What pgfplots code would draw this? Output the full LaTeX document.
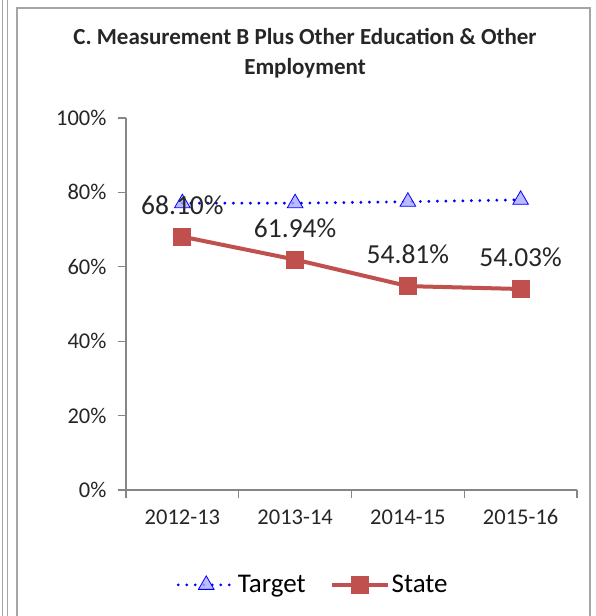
\documentclass[border=0pt]{standalone}
\usepackage{fontspec}
\setmainfont{Carlito}
\usepackage{pgfplots}
\pgfplotsset{compat=1.18}
\definecolor{stateRed}{RGB}{192,80,77}
\definecolor{targetBlue}{RGB}{0,0,255}
\definecolor{triFill}{RGB}{170,170,255}
\definecolor{axisGray}{RGB}{134,134,134}
\definecolor{frameGray}{RGB}{165,165,165}
\definecolor{labelDark}{RGB}{38,38,38}

\begin{document}
\begin{tikzpicture}[x=1pt,y=1pt]
\useasboundingbox (0,0) rectangle (595,616);
\fill[white] (0,0) rectangle (595,616);
% neighbouring chart edge and this chart's frame
\draw[frameGray, line width=1pt] (2,0) -- (2,616);
\draw[frameGray, line width=1pt] (7,0) -- (7,616);
\draw[frameGray, line width=1.2pt] (17,-5) -- (17,608) -- (590,608) -- (590,-5);
\node[font=\fontsize{23}{30}\selectfont\bfseries, text=labelDark, align=center] at (305,563)
  {C. Measurement B Plus Other Education \& Other\\Employment};

\begin{axis}[
  at={(126pt,126pt)}, anchor=south west,
  scale only axis, width=451pt, height=372pt,
  xmin=-0.5, xmax=3.5, ymin=0, ymax=100,
  axis x line=bottom, axis y line=left,
  axis line style={axisGray, line width=1.2pt, -},
  tick style={axisGray, line width=1.2pt},
  tick align=outside, major tick length=8pt,
  xtick={-0.5,0.5,1.5,2.5,3.5},
  xticklabels={2012-13,2013-14,2014-15,2015-16,},
  x tick label style={xshift=56.4pt, yshift=-8pt},
  ytick={0,20,40,60,80,100},
  yticklabels={0\%,20\%,40\%,60\%,80\%,100\%},
  y tick label style={xshift=-8pt},
  tick label style={font=\fontsize{22.5}{25}\selectfont, text=labelDark},
  legend style={draw=none, fill=none, at={(0.415,-0.255)}, anchor=center,
    legend columns=2, font=\fontsize{27}{30}\selectfont,
    /tikz/every even column/.append style={column sep=22pt}},
  legend image code/.code={\draw[mark repeat=2,mark phase=2] plot coordinates {(0pt,0pt) (28pt,0pt) (56pt,0pt)};},
  clip=false,
]
\addplot[targetBlue, line width=3.2pt, line cap=round, dash pattern=on 0pt off 8.5pt,
  mark=triangle*, mark size=9pt,
  mark options={solid, draw=targetBlue, fill=triFill, line width=0.8pt, fill opacity=0.8}]
  coordinates {(0,77.1) (1,77.1) (2,77.5) (3,78.0)};
\addlegendentry{Target}
\addplot[stateRed, line width=4pt, mark=square*, mark size=8.5pt,
  mark options={solid, fill=stateRed, line width=0pt},
  nodes near coords, point meta=explicit symbolic,
  every node near coord/.append style={font=\fontsize{27.5}{30}\selectfont, text=labelDark, anchor=south, yshift=19pt}]
  coordinates {(0,68.10) [68.10\%] (1,61.94) [61.94\%] (2,54.81) [54.81\%] (3,54.03) [54.03\%]};
\addlegendentry{State}
\end{axis}
\end{tikzpicture}
\end{document}
